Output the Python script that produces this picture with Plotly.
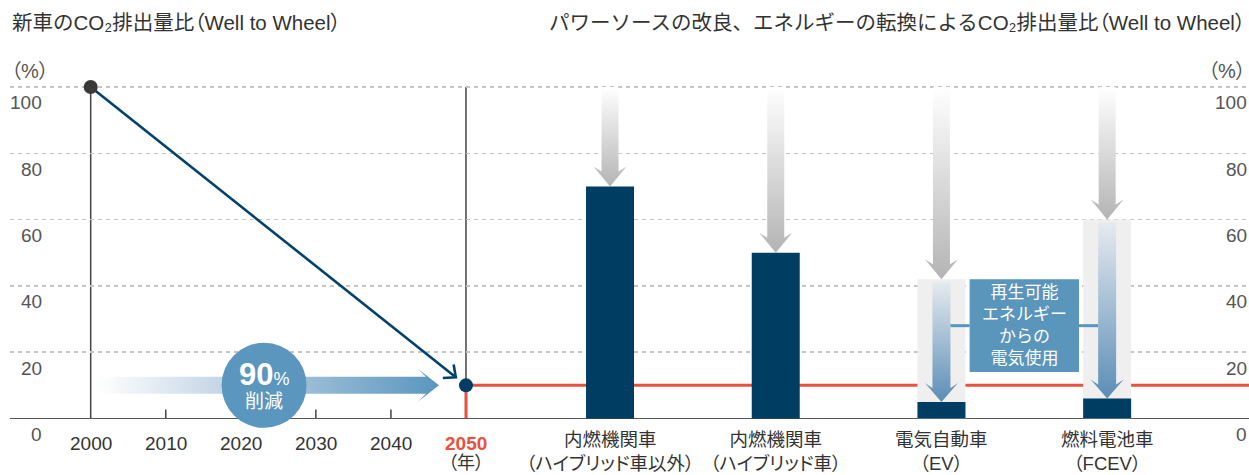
import math
import plotly.graph_objects as go

# ---------------- data ----------------
years = [2000, 2050]
co2_share = [100, 10]          # % of 2000 level (new vehicles)
target_share = 10
reduction_pct = 90
year_ticks = [2000, 2010, 2020, 2030, 2040, 2050]
year_labels = ["2000", "2010", "2020", "2030", "2040", "2050"]
y_ticks = [0, 20, 40, 60, 80, 100]

categories = ["内燃機関車<br>（ハイブリッド車以外）",
              "内燃機関車<br>（ハイブリッド車）",
              "電気自動車<br>（EV）",
              "燃料電池車<br>（FCEV）"]
start_share = [100, 100, 100, 100]
powersource_share = [70, 50, 42, 60]   # after power-source improvement
final_share = [70, 50, 5, 6]           # after renewable electricity

title_left = "新車のCO₂排出量比（Well to Wheel）"
title_right = "パワーソースの改良、エネルギーの転換によるCO₂排出量比（Well to Wheel）"
renew_text = "再生可能<br>エネルギー<br>からの<br>電気使用"

# ---------------- layout geometry ----------------
W, H = 1249, 475
ML, MR, MT, MB = 10, 0, 60, 43
PW, PH = W - ML - MR, H - MT - MB
Y_RANGE = [-4.08, 108.14]
X1_RANGE = [1989.25, 2154.32]
X2_RANGE = [-3.621, 3.856]
ppy = PH / (Y_RANGE[1] - Y_RANGE[0])
ppx1 = PW / (X1_RANGE[1] - X1_RANGE[0])
ppx2 = PW / (X2_RANGE[1] - X2_RANGE[0])


def xp(px):
    return (px - ML) / PW


def yp(py):
    return (H - MB - py) / PH


NAVY = "#003d63"
LINE_NAVY = "#01416b"
RED = "#e8513d"
BLUE = "#5a96be"
TXT = "#333333"
AX_TXT = "#555555"
FONT = "Liberation Sans, Noto Sans CJK JP, sans-serif"
BAR_W = 48 / ppx2
PALT = "font-feature-settings:\"palt\""


def palt(s):
    return f"<span style='{PALT}'>{s}</span>"


def palt_parens(s):
    return s.replace("（", palt("（")).replace("）", palt("）"))


fig = go.Figure()


def v_arrow(cx, y_top, y_tip, shaft_px, head_px, head_h_px, notch_px, c_bottom, c_top):
    sw = shaft_px / 2 / ppx2
    hw = head_px / 2 / ppx2
    hh = head_h_px / ppy
    n = notch_px / ppy
    xs = [cx - sw, cx - sw, cx - hw, cx, cx + hw, cx + sw, cx + sw, cx - sw]
    ys = [y_top, y_tip + hh - n, y_tip + hh, y_tip, y_tip + hh, y_tip + hh - n, y_top, y_top]
    fig.add_trace(go.Scatter(
        x=xs, y=ys, xaxis="x2", yaxis="y", mode="lines", line=dict(width=0),
        fill="toself",
        fillgradient=dict(type="vertical", colorscale=[[0, c_bottom], [1, c_top]],
                          start=y_tip, stop=y_top),
        hoverinfo="skip", showlegend=False))


# ---------- left panel ----------
# horizontal "90% reduction" arrow
h_start = years[0] + 1
h_tip = years[1] - 3.6
sh = 8.5 / ppy
hh_ = 16.5 / ppy
hl = 21 / ppx1
nt = 8 / ppx1
yc = target_share
fig.add_trace(go.Scatter(
    x=[h_start, h_tip - hl + nt, h_tip - hl, h_tip, h_tip - hl, h_tip - hl + nt, h_start, h_start],
    y=[yc + sh, yc + sh, yc + hh_, yc, yc - hh_, yc - sh, yc - sh, yc + sh],
    mode="lines", line=dict(width=0), fill="toself",
    fillgradient=dict(type="horizontal",
                      colorscale=[[0, "rgba(255,255,255,1)"], [0.35, "#c6d7e7"], [1, "#5a96be"]],
                      start=h_start, stop=h_tip),
    hoverinfo="skip", showlegend=False))

# reduction badge
badge_x = years[0] + 23.1
fig.add_trace(go.Scatter(
    x=[badge_x], y=[target_share], mode="markers",
    marker=dict(size=85, color=BLUE, line=dict(width=0)),
    hoverinfo="skip", showlegend=False))

# trend line with open arrow head
x0p, y0p = years[0] * ppx1, co2_share[0] * ppy
x1p, y1p = years[1] * ppx1, co2_share[1] * ppy
L = math.hypot(x1p - x0p, y1p - y0p)
ux, uy = (x1p - x0p) / L, (y1p - y0p) / L
gap = 13
tx, ty = x1p - ux * gap, y1p - uy * gap
arm = 13
ang = math.radians(42)
bx, by = -ux, -uy
a1 = (tx + arm * (bx * math.cos(ang) - by * math.sin(ang)),
      ty + arm * (bx * math.sin(ang) + by * math.cos(ang)))
a2 = (tx + arm * (bx * math.cos(-ang) - by * math.sin(-ang)),
      ty + arm * (bx * math.sin(-ang) + by * math.cos(-ang)))
fig.add_trace(go.Scatter(
    x=[years[0], tx / ppx1, None, a1[0] / ppx1, tx / ppx1, a2[0] / ppx1],
    y=[co2_share[0], ty / ppy, None, a1[1] / ppy, ty / ppy, a2[1] / ppy],
    mode="lines", line=dict(color=LINE_NAVY, width=2.6),
    hoverinfo="skip", showlegend=False))
# end dots
fig.add_trace(go.Scatter(
    x=years, y=co2_share, mode="markers",
    marker=dict(size=14, color=["#3c3838", NAVY]),
    hoverinfo="skip", showlegend=False))

# ---------- right panel ----------
reduced = [i for i in range(len(categories)) if final_share[i] < powersource_share[i]]
# light grey background columns
fig.add_trace(go.Bar(
    x=[i for i in reduced], y=[powersource_share[i] for i in reduced],
    xaxis="x2", yaxis="y", width=BAR_W, marker=dict(color="#efefef", line=dict(width=0)),
    hoverinfo="skip", showlegend=False))
# navy result bars
fig.add_trace(go.Bar(
    x=list(range(len(categories))), y=final_share, xaxis="x2", yaxis="y",
    width=BAR_W, marker=dict(color=NAVY, line=dict(width=0)),
    hoverinfo="skip", showlegend=False))

for i in range(len(categories)):
    v_arrow(i, start_share[i], powersource_share[i], 17, 33, 20, 5, "#b4b4b4", "#ffffff")
for i in reduced:
    v_arrow(i, powersource_share[i] - 3 / ppy, final_share[i], 18, 33, 19, 5, "#5b8db6", "#e6eaef")

# ---------- shapes ----------
shapes = []
shapes.append(dict(type="line", xref="x", yref="y", x0=years[0], x1=years[0], y0=0, y1=co2_share[0],
                   line=dict(color="#444444", width=1.5), layer="below"))
shapes.append(dict(type="line", xref="x", yref="y", x0=years[1], x1=years[1], y0=target_share, y1=100,
                   line=dict(color="#444444", width=1.5), layer="below"))
shapes.append(dict(type="line", xref="x", yref="y", x0=years[1], x1=years[1], y0=0, y1=target_share,
                   line=dict(color=RED, width=3), layer="below"))
shapes.append(dict(type="line", xref="x", yref="y", x0=years[1] - 0.2, x1=X1_RANGE[1], y0=target_share,
                   y1=target_share, line=dict(color=RED, width=3), layer="below"))
for yv in year_ticks[1:-1]:
    shapes.append(dict(type="line", xref="x", yref="y", x0=yv, x1=yv, y0=0, y1=9 / ppy,
                       line=dict(color="#444444", width=1.5), layer="below"))
bx0, bx1 = 2.5 - 0.33, 2.5 + 0.33
box_top = powersource_share[2]
box_bot = 14
box_mid = (box_top + box_bot) / 2
shapes.append(dict(type="rect", xref="x2", yref="y", x0=bx0, x1=bx1, y0=box_bot, y1=box_top,
                   fillcolor="#5a95bc", line=dict(width=0), layer="above"))
shapes.append(dict(type="line", xref="x2", yref="y", x0=2 + 9 / ppx2, x1=bx0, y0=box_mid, y1=box_mid,
                   line=dict(color="#5a95bc", width=3), layer="above"))
shapes.append(dict(type="line", xref="x2", yref="y", x0=bx1, x1=3 - 9 / ppx2, y0=box_mid, y1=box_mid,
                   line=dict(color="#5a95bc", width=3), layer="above"))

# ---------- annotations ----------
ann = []
ann.append(dict(text=palt_parens(title_left), xref="paper", yref="paper", x=xp(10), y=yp(22),
                xanchor="left", yanchor="middle", showarrow=False,
                font=dict(size=20.5, color=TXT, family=FONT)))
ann.append(dict(text=palt_parens(title_right), xref="paper", yref="paper", x=xp(1247), y=yp(22),
                xanchor="right", yanchor="middle", showarrow=False,
                font=dict(size=20.5, color=TXT, family=FONT)))
ann.append(dict(text=palt("（%）"), xref="paper", yref="paper", x=xp(9), y=yp(71), xanchor="left",
                yanchor="middle", showarrow=False, font=dict(size=20, color=AX_TXT, family=FONT)))
ann.append(dict(text=palt("（%）"), xref="paper", yref="paper", x=xp(1248), y=yp(71), xanchor="right",
                yanchor="middle", showarrow=False, font=dict(size=20, color=AX_TXT, family=FONT)))
for v in y_ticks:
    ann.append(dict(text=str(v), xref="paper", yref="y", x=xp(44), y=v, yshift=-16, xanchor="right",
                    yanchor="middle", showarrow=False, font=dict(size=19, color=AX_TXT, family=FONT)))
    ann.append(dict(text=str(v), xref="paper", yref="y", x=xp(1249), y=v, yshift=-16, xanchor="right",
                    yanchor="middle", showarrow=False, font=dict(size=19, color=AX_TXT, family=FONT)))
for yv, lab in zip(year_ticks, year_labels):
    last = yv == years[1]
    ann.append(dict(text=f"<b>{lab}</b>" if last else lab, xref="x", yref="y", x=yv, y=0,
                    yshift=-25.5, xanchor="center", yanchor="middle", showarrow=False,
                    font=dict(size=19, color=RED if last else TXT, family=FONT)))
ann.append(dict(text=palt("（年）"), xref="x", yref="y", x=years[1], y=0, borderpad=0,
                yshift=-45, xanchor="center", yanchor="middle", showarrow=False,
                font=dict(size=18, color=TXT, family=FONT)))
for i, c in enumerate(categories):
    ann.append(dict(text=palt(c), xref="x2", yref="y", x=i, y=0, borderpad=0,
                    yshift=-33, xanchor="center", yanchor="middle", showarrow=False,
                    font=dict(size=18.5, color=TXT, family=FONT)))
ann.append(dict(text=f"<b>{reduction_pct}</b><span style='font-size:18px'>%</span>", xref="x", yref="y",
                x=badge_x, y=target_share, yshift=11, xanchor="center", yanchor="middle",
                showarrow=False, font=dict(size=31, color="white", family=FONT)))
ann.append(dict(text="削減", xref="x", yref="y", x=badge_x, y=target_share, yshift=-16,
                xanchor="center", yanchor="middle", showarrow=False,
                font=dict(size=19, color="white", family=FONT)))
ann.append(dict(text=renew_text, xref="x2", yref="y", x=2.5, y=box_mid, xanchor="center",
                yanchor="middle", showarrow=False, font=dict(size=17, color="white", family=FONT)))

fig.update_layout(
    width=W, height=H, autosize=False,
    margin=dict(l=ML, r=MR, t=MT, b=MB, pad=0),
    paper_bgcolor="white", plot_bgcolor="white",
    barmode="overlay", hovermode=False, showlegend=False,
    font=dict(family=FONT, color=TXT),
    xaxis=dict(range=X1_RANGE, domain=[0, 1], showgrid=False, zeroline=False,
               showticklabels=False, ticks="", showline=False, fixedrange=True),
    xaxis2=dict(range=X2_RANGE, domain=[0, 1], overlaying="x", showgrid=False, zeroline=False,
                showticklabels=False, ticks="", showline=False, fixedrange=True),
    yaxis=dict(range=Y_RANGE, tickvals=y_ticks, showticklabels=False, showgrid=True,
               gridcolor="#c4c4c4", griddash="4px,4px", gridwidth=1.5,
               zeroline=True, zerolinecolor="#555555", zerolinewidth=1.6, ticks="",
               showline=False, fixedrange=True),
    shapes=shapes, annotations=ann,
)

fig.write_html("out.html", config={"displayModeBar": False, "staticPlot": True},
               post_script="document.body.style.margin='0';")
